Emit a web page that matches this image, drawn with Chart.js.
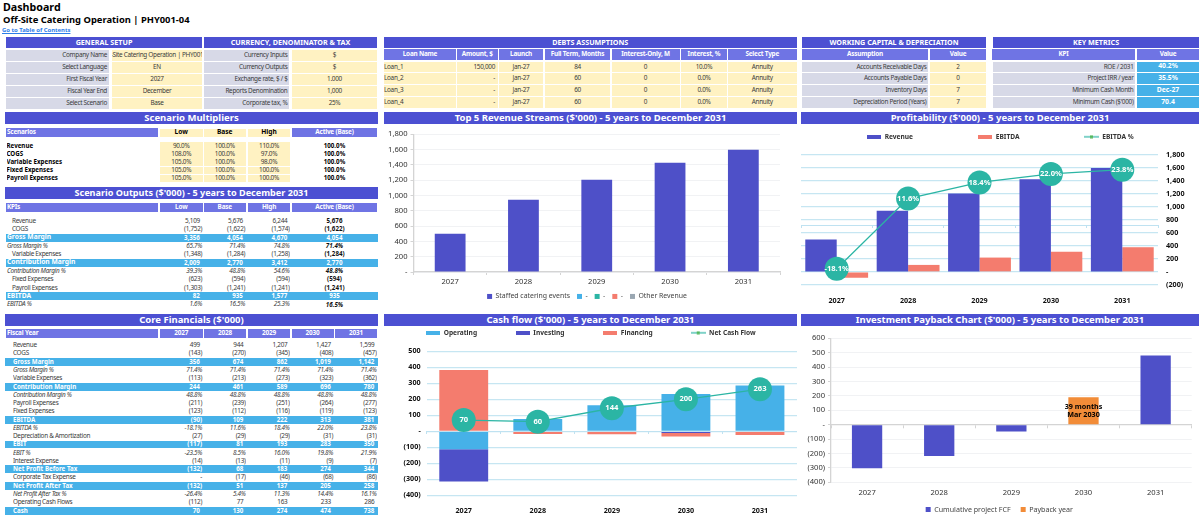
<!DOCTYPE html>
<html>
<head>
<meta charset="utf-8">
<title>Dashboard</title>
<script src="https://cdn.jsdelivr.net/npm/chart.js@4"></script>
<style>
  html, body { margin: 0; padding: 0; background: #fff; }
  #page { position: relative; width: 1200px; height: 518px; overflow: hidden; font-family: "Noto Sans", sans-serif; color: #3a3a3a; }
  .c { position: absolute; display: flex; align-items: center; white-space: nowrap; overflow: hidden; box-sizing: border-box; font-size: 6.4px; letter-spacing: -.3px; line-height: 1; }
  .c span { flex: none; }
  .t { position: absolute; white-space: nowrap; color: #000; font-weight: 700; }
  .title { background: #4c50d2; color: #fff; font-weight: 700; font-size: 9.5px; letter-spacing: 0; justify-content: center; }
  .head { background: #4c50d2; color: #fff; font-weight: 700; font-size: 7.2px; letter-spacing: 0; justify-content: center; }
  .sub { background: #6f74e4; color: #fff; font-weight: 700; font-size: 6.4px; letter-spacing: -.2px; justify-content: center; }
  .gray { background: #d7d9e7; justify-content: flex-end; padding-right: 1.5px; }
  .yel { background: #fff2c2; justify-content: center; }
  .kpi { background: #46b1e8; color: #fff; font-weight: 700; font-size: 6.8px; letter-spacing: 0; justify-content: center; }
  .band { background: #46b1e8; }
  canvas { position: absolute; }
</style>
</head>
<body>
<div id="page"></div>
<script>
const FONT = '"Noto Sans", sans-serif';
const YEARS = ['2027', '2028', '2029', '2030', '2031'];

// charts
const STAFFED = [499, 944, 1207, 1427, 1599];
const STREAM_2 = [0, 0, 0, 0, 0];
const STREAM_3 = [0, 0, 0, 0, 0];
const STREAM_4 = [0, 0, 0, 0, 0];
const OTHER_REV = [0, 0, 0, 0, 0];
const REVENUE = [499, 944, 1207, 1427, 1599];
const EBITDA = [-90, 109, 222, 313, 381];
const EBITDA_PCT = [-18.1, 11.6, 18.4, 22.0, 23.8];
const OPERATING = [-112, 77, 163, 233, 286];
const INVESTING = [-201, 0, 0, -10, 0];
const FINANCING = [383, -17, -19, -23, -23];
const NET_CASH = [70, 60, 144, 200, 263];
const PAYBACK_FCF = [-303, -217, -47, null, 481];
const PAYBACK_YEAR = [null, null, null, 190, null];
const PAYBACK_NOTE = ['39 months', 'Mar 2030'];

// top tables
const SETUP_LABELS = ['Company Name', 'Select Language', 'First Fiscal Year', 'Fiscal Year End', 'Select Scenario'];
const SETUP_VALUES = ['Off-Site Catering Operation | PHY001-04', 'EN', '2027', 'December', 'Base'];
const CURRENCY_LABELS = ['Currency Inputs', 'Currency Outputs', 'Exchange rate, $ / $', 'Reports Denomination', 'Corporate tax, %'];
const CURRENCY_VALUES = ['$', '$', '1.000', '1,000', '25%'];
const DEBT_HEADS = ['Loan Name', 'Amount, $', 'Launch', 'Full Term, Months', 'Interest-Only, M', 'Interest, %', 'Select Type'];
const DEBT_ROWS = [
  ['Loan_1', '150,000', 'Jan-27', '84', '0', '10.0%', 'Annuity'],
  ['Loan_2', '-', 'Jan-27', '60', '0', '0.0%', 'Annuity'],
  ['Loan_3', '-', 'Jan-27', '60', '0', '0.0%', 'Annuity'],
  ['Loan_4', '-', 'Jan-27', '60', '0', '0.0%', 'Annuity'],
];
const WC_LABELS = ['Accounts Receivable Days', 'Accounts Payable Days', 'Inventory Days', 'Depreciation Period (Years)'];
const WC_VALUES = ['2', '0', '7', '7'];
const KPI_LABELS = ['ROE / 2031', 'Project IRR / year', 'Minimum Cash Month', "Minimum Cash ($'000)"];
const KPI_VALUES = ['40.2%', '35.5%', 'Dec-27', '70.4'];

// scenario tables
const SCEN_HEADS = ['Low', 'Base', 'High', 'Active (Base)'];
const MULT_ROWS = [
  ['Revenue', '90.0%', '100.0%', '110.0%', '100.0%'],
  ['COGS', '108.0%', '100.0%', '97.0%', '100.0%'],
  ['Variable Expenses', '105.0%', '100.0%', '98.0%', '100.0%'],
  ['Fixed Expenses', '105.0%', '100.0%', '100.0%', '100.0%'],
  ['Payroll Expenses', '105.0%', '100.0%', '100.0%', '100.0%'],
];
// kind: n normal, b blue band, i italic
const OUT_ROWS = [
  ['n', 'Revenue', '5,109', '5,676', '6,244', '5,676'],
  ['n', 'COGS', '(1,752)', '(1,622)', '(1,574)', '(1,622)'],
  ['b', 'Gross Margin', '3,356', '4,054', '4,670', '4,054'],
  ['i', 'Gross Margin %', '65.7%', '71.4%', '74.8%', '71.4%'],
  ['n', 'Variable Expenses', '(1,348)', '(1,284)', '(1,258)', '(1,284)'],
  ['b', 'Contribution Margin', '2,009', '2,770', '3,412', '2,770'],
  ['i', 'Contribution Margin %', '39.3%', '48.8%', '54.6%', '48.8%'],
  ['n', 'Fixed Expenses', '(623)', '(594)', '(594)', '(594)'],
  ['n', 'Payroll Expenses', '(1,303)', '(1,241)', '(1,241)', '(1,241)'],
  ['b', 'EBITDA', '82', '935', '1,577', '935'],
  ['i', 'EBITDA %', '1.6%', '16.5%', '25.3%', '16.5%'],
];
const CORE_ROWS = [
  ['n', 'Revenue', '499', '944', '1,207', '1,427', '1,599'],
  ['n', 'COGS', '(143)', '(270)', '(345)', '(408)', '(457)'],
  ['b', 'Gross Margin', '356', '674', '862', '1,019', '1,142'],
  ['i', 'Gross Margin %', '71.4%', '71.4%', '71.4%', '71.4%', '71.4%'],
  ['n', 'Variable Expenses', '(113)', '(213)', '(273)', '(323)', '(362)'],
  ['b', 'Contribution Margin', '244', '461', '589', '696', '780'],
  ['i', 'Contribution Margin %', '48.8%', '48.8%', '48.8%', '48.8%', '48.8%'],
  ['n', 'Payroll Expenses', '(211)', '(239)', '(251)', '(264)', '(277)'],
  ['n', 'Fixed Expenses', '(123)', '(112)', '(116)', '(119)', '(123)'],
  ['b', 'EBITDA', '(90)', '109', '222', '313', '381'],
  ['i', 'EBITDA %', '-18.1%', '11.6%', '18.4%', '22.0%', '23.8%'],
  ['n', 'Depreciation & Amortization', '(27)', '(29)', '(29)', '(31)', '(31)'],
  ['b', 'EBIT', '(117)', '81', '193', '283', '350'],
  ['i', 'EBIT %', '-23.5%', '8.5%', '16.0%', '19.8%', '21.9%'],
  ['n', 'Interest Expense', '(14)', '(13)', '(11)', '(9)', '(7)'],
  ['b', 'Net Profit Before Tax', '(132)', '68', '183', '274', '344'],
  ['n', 'Corporate Tax Expense', '-', '(17)', '(46)', '(68)', '(86)'],
  ['b', 'Net Profit After Tax', '(132)', '51', '137', '205', '258'],
  ['i', 'Net Profit After Tax %', '-26.4%', '5.4%', '11.3%', '14.4%', '16.1%'],
  ['n', 'Operating Cash Flows', '(112)', '77', '163', '233', '286'],
  ['b', 'Cash', '70', '130', '274', '474', '738'],
];

const page = document.getElementById('page');
function cell(x, y, w, h, text, cls, extra) {
  const d = document.createElement('div');
  d.className = 'c ' + (cls || '');
  d.style.cssText = 'left:' + x + 'px;top:' + y + 'px;width:' + w + 'px;height:' + h + 'px;' + (extra || '');
  const s = document.createElement('span');
  s.textContent = text;
  d.appendChild(s);
  page.appendChild(d);
  return d;
}
function label(x, y, text, css) {
  const d = document.createElement('div');
  d.className = 't';
  d.textContent = text;
  d.style.cssText = 'left:' + x + 'px;top:' + y + 'px;' + css;
  page.appendChild(d);
}

label(3, 0, 'Dashboard', 'font-size:10.7px;line-height:15px;');
label(3, 12.5, 'Off-Site Catering Operation | PHY001-04', 'font-size:9.4px;line-height:13px;');
label(2, 26, 'Go to Table of Contents', 'font-size:5.9px;line-height:8px;color:#2b7de9;text-decoration:underline;');

// top row of input tables
const ROW5 = [49.5, 61.5, 73.5, 85.5, 97.5];
const ROW4 = [61.5, 73.2, 85.2, 97];
cell(6, 37, 196, 11, 'GENERAL SETUP', 'head');
cell(204, 37, 173, 11, 'CURRENCY, DENOMINATOR & TAX', 'head');
SETUP_LABELS.forEach((t, i) => {
  cell(6, ROW5[i], 102.5, 11, t, 'gray');
  cell(112, ROW5[i], 90, 11, SETUP_VALUES[i], 'yel');
  cell(204, ROW5[i], 85, 11, CURRENCY_LABELS[i], 'gray');
  cell(292, ROW5[i], 85, 11, CURRENCY_VALUES[i], 'yel');
});

const DEBT_X = [384, 457, 499, 545, 611.5, 681, 728];
const DEBT_W = [72, 40.5, 44, 65, 68, 46, 68.5];
cell(384, 37, 412.5, 11, 'DEBTS ASSUMPTIONS', 'head');
DEBT_HEADS.forEach((t, i) => cell(DEBT_X[i], 49, DEBT_W[i], 10.5, t, 'sub'));
DEBT_ROWS.forEach((r, j) => r.forEach((t, i) => {
  const pos = i === 0 ? 'justify-content:flex-start;' : i === 1 ? 'justify-content:flex-end;padding-right:2.5px;' : '';
  cell(DEBT_X[i], ROW4[j], DEBT_W[i], 10.5, t, 'yel', pos);
}));

cell(802, 37, 184, 11, 'WORKING CAPITAL & DEPRECIATION', 'head');
cell(802, 49, 126, 10.5, 'Assumption', 'sub');
cell(930, 49, 56, 10.5, 'Value', 'sub');
cell(993, 37, 206, 11, 'KEY METRICS', 'head');
cell(992, 49, 143, 10.5, 'KPI', 'sub');
cell(1137, 49, 62, 10.5, 'Value', 'sub');
ROW4.forEach((y, i) => {
  cell(802, y, 126, 10.5, WC_LABELS[i], 'gray');
  cell(930, y, 56, 10.5, WC_VALUES[i], 'yel');
  cell(993, y, 142, 10.5, KPI_LABELS[i], 'gray');
  cell(1137, y, 62, 10.5, KPI_VALUES[i], 'kpi');
});

// section titles
cell(5, 112, 373, 12, 'Scenario Multipliers', 'title');
cell(384, 112, 413, 12, "Top 5 Revenue Streams ($'000) - 5 years to December 2031", 'title');
cell(801, 112, 398, 12, "Profitability ($'000) - 5 years to December 2031", 'title');
cell(5, 187, 373, 12, "Scenario Outputs ($'000) - 5 years to December 2031", 'title', 'font-size:9.1px;');
cell(5, 313.5, 373, 12, "Core Financials ($'000)", 'title');
cell(384, 313.5, 413, 12, "Cash flow ($'000) - 5 years to December 2031", 'title');
cell(801, 313.5, 398, 12, "Investment Payback Chart ($'000) - 5 years to December 2031", 'title');

// table columns shared by the left hand tables
const COL_X = [160, 204, 248, 291.5, 335];
const COL_W = [42.5, 42, 42, 42, 42];
const SCEN_X = [160, 204, 248, 292];
const SCEN_W = [42.5, 41.5, 42, 85];

cell(6, 128, 152, 9, 'Scenarios', 'sub', 'justify-content:flex-start;padding-left:1px;');
SCEN_HEADS.forEach((t, i) => {
  if (i < 3) cell(SCEN_X[i], 128.5, SCEN_W[i], 8.5, t, 'yel', 'font-weight:700;color:#000;font-size:6.6px;letter-spacing:0;');
  else cell(SCEN_X[i], 128, SCEN_W[i], 9, t, 'sub');
});
MULT_ROWS.forEach((r, j) => {
  const y = 142 + j * 8.1;
  cell(6.5, y, 150, 8, r[0], '', 'font-weight:700;color:#000;letter-spacing:0;font-size:6.2px;');
  for (let i = 0; i < 3; i++) cell(SCEN_X[i], y + .2, SCEN_W[i], 7.4, r[i + 1], 'yel');
  cell(SCEN_X[3], y, SCEN_W[3], 8, r[4], '', 'justify-content:center;font-weight:700;color:#000;letter-spacing:0;font-size:6.2px;');
});

cell(6, 202.5, 152, 9, 'KPIs', 'sub', 'justify-content:flex-start;padding-left:1px;');
SCEN_HEADS.forEach((t, i) => cell(SCEN_X[i], 202.5, SCEN_W[i], 9, t, 'sub'));
function rowStyle(kind) {
  if (kind === 'b') return 'color:#fff;font-weight:700;letter-spacing:0;font-size:6.2px;';
  if (kind === 'i') return 'font-style:italic;';
  return '';
}
function numPad(t) { return /\d$/.test(t) ? 'padding-right:2.6px;' : 'padding-right:.4px;'; }
OUT_ROWS.forEach((r, j) => {
  const y = 216.9 + j * 8.36;
  const k = r[0];
  if (k === 'b') cell(6, y + .2, 371.5, 7.9, '', 'band');
  const pad = k === 'b' ? 'padding-left:1px;font-size:6.7px;' : k === 'i' ? 'padding-left:1px;' : 'padding-left:6px;';
  cell(6, y, 150, 8.3, r[1], '', rowStyle(k) + pad);
  for (let i = 0; i < 3; i++) {
    cell(SCEN_X[i], y, SCEN_W[i], 8.3, r[i + 2], '', rowStyle(k) + 'justify-content:flex-end;' + numPad(r[i + 2]));
  }
  cell(SCEN_X[3], y, SCEN_W[3], 8.3, r[5], '', (k === 'b' ? 'color:#fff;' : 'color:#111;') + (k === 'i' ? 'font-style:italic;' : '') + 'font-weight:700;letter-spacing:0;font-size:6.2px;justify-content:center;');
});

cell(6, 329, 152, 8.5, 'Fiscal Year', 'sub', 'justify-content:flex-start;padding-left:1px;');
YEARS.forEach((t, i) => cell(COL_X[i], 329, COL_W[i], 8.5, t, 'sub'));
CORE_ROWS.forEach((r, j) => {
  const y = 341.2 + j * 8.27;
  const k = r[0];
  if (k === 'b') cell(5, y + .2, 373, 7.8, '', 'band');
  cell(13, y, 145, 8.2, r[1], '', rowStyle(k));
  for (let i = 0; i < 5; i++) {
    cell(COL_X[i], y, COL_W[i], 8.2, r[i + 2], '', rowStyle(k) + 'justify-content:flex-end;' + numPad(r[i + 2]));
  }
});

// chart helpers
const C = { indigo: '#4e50c8', blue: '#46b1e8', teal: '#2bb5a4', salmon: '#f47c6e', grey: '#9aa7b2', orange: '#f28c38', pale: '#c6e6f2', soft: '#f1f2f4' };
const INK = '#333';

function addCanvas(x, y, w, h) {
  const cv = document.createElement('canvas');
  cv.width = w; cv.height = h;
  cv.style.cssText = 'left:' + x + 'px;top:' + y + 'px;width:' + w + 'px;height:' + h + 'px;';
  page.appendChild(cv);
  return cv;
}
function money(v) {
  if (v === 0) return '-';
  const s = Math.abs(v).toLocaleString('en-US');
  return v < 0 ? '(' + s + ')' : s;
}
function barIcon(color) {
  const cv = document.createElement('canvas');
  cv.width = 14; cv.height = 4;
  const g = cv.getContext('2d');
  g.fillStyle = color; g.fillRect(0, 0, 14, 4);
  return cv;
}
function lineIcon(color) {
  const cv = document.createElement('canvas');
  cv.width = 15; cv.height = 4;
  const g = cv.getContext('2d');
  g.fillStyle = color; g.fillRect(0, 1.4, 15, 1.2);
  g.fillStyle = '#55b85f'; g.fillRect(6, .5, 3, 3);
  return cv;
}
// wide gaps between legend items without a tall legend box or wrapping
function legendFit(height, lift, shift) {
  return {
    id: 'legendFit',
    beforeInit(chart) {
      const lg = chart.legend, fit = lg.fit;
      lg.fit = function () {
        const w = this.maxWidth;
        this.maxWidth = w + 400;
        fit.call(this);
        this.maxWidth = w;
        this.width = w;
        this.height = height;
      };
    },
    afterLayout(chart) {
      const lg = chart.legend;
      lg.top -= lg.options.labels.padding - lift;
      lg.left += (shift || 0) - 200;
      lg.right += (shift || 0) + 200;
    },
  };
}
function bubbleText(index, fmt) {
  return {
    id: 'bubbleText',
    afterDatasetsDraw(chart) {
      const g = chart.ctx;
      g.save();
      g.font = '700 7.6px ' + FONT;
      g.fillStyle = '#fff';
      g.textAlign = 'center';
      g.textBaseline = 'middle';
      chart.getDatasetMeta(index).data.forEach((p, i) => {
        g.fillText(fmt(chart.data.datasets[index].data[i]), p.x, p.y);
      });
      g.restore();
    },
  };
}
function iconLegend(padding) {
  return {
    display: true,
    labels: {
      usePointStyle: true, pointStyleWidth: 15, padding: padding, color: INK,
      font: { family: FONT, size: 6.6, weight: '700' },
      generateLabels(chart) {
        return chart.data.datasets.map((d, i) => ({
          text: d.label, datasetIndex: i, fontColor: INK, lineWidth: 0, strokeStyle: 'transparent',
          pointStyle: d.type === 'line' ? lineIcon(d.borderColor) : barIcon(d.backgroundColor),
        }));
      },
    },
  };
}
const squareLegend = {
  display: true,
  labels: { boxWidth: 5, boxHeight: 5, padding: 7, color: '#444', font: { family: FONT, size: 6.9 } },
};
const fixW = w => ({ afterFit(s) { s.width = w; } });
const fixH = h => ({ afterFit(s) { s.height = h; s.paddingLeft = 0; s.paddingRight = 0; } });
const tickFont = { family: FONT, size: 7.6 };
const boldFont = { family: FONT, size: 7.2, weight: '700' };
const base = { responsive: false, animation: false, events: [] };

// Top 5 revenue streams
new Chart(addCanvas(384, 125, 413, 185), {
  type: 'bar',
  data: {
    labels: YEARS,
    datasets: [
      { label: 'Staffed catering events', data: STAFFED, backgroundColor: C.indigo },
      { label: '-', data: STREAM_2, backgroundColor: C.blue },
      { label: '-', data: STREAM_3, backgroundColor: C.teal },
      { label: '-', data: STREAM_4, backgroundColor: C.salmon },
      { label: 'Other Revenue', data: OTHER_REV, backgroundColor: C.grey },
    ],
  },
  options: Object.assign({}, base, {
    layout: { padding: { top: 9.3, right: 17, bottom: 0, left: 0 } },
    datasets: { bar: { categoryPercentage: 1, barPercentage: 0.42 } },
    plugins: { legend: Object.assign({ position: 'bottom' }, squareLegend), tooltip: { enabled: false } },
    scales: {
      x: Object.assign({ stacked: true, border: { color: '#d4d4d4', width: 1.3 }, grid: { drawOnChartArea: false, tickLength: 3, color: '#d4d4d4' },
        ticks: { font: tickFont, color: INK, padding: 2, maxRotation: 0 } }, fixH(14)),
      y: Object.assign({ stacked: true, min: 0, max: 1800, border: { color: '#d4d4d4', width: 1.3 }, grid: { color: C.soft, tickLength: 3, tickColor: '#d4d4d4' },
        ticks: { stepSize: 200, font: tickFont, color: INK, padding: 3, callback: money } }, fixW(29.5)),
    },
  }),
  plugins: [legendFit(24, 7, 5)],
});

// Profitability
new Chart(addCanvas(801, 125, 398, 185), {
  type: 'bar',
  data: {
    labels: YEARS,
    datasets: [
      { label: 'Revenue', data: REVENUE, backgroundColor: C.indigo, order: 1 },
      { label: 'EBITDA', data: EBITDA, backgroundColor: C.salmon, order: 1 },
      { type: 'line', label: 'EBITDA %', data: EBITDA_PCT, yAxisID: 'y1', order: 0, borderColor: C.teal, backgroundColor: C.teal,
        borderWidth: 1.3, pointRadius: 12, pointBackgroundColor: C.teal, pointBorderWidth: 0 },
    ],
  },
  options: Object.assign({}, base, {
    layout: { autoPadding: false, padding: { top: 3, right: 0, bottom: 0, left: 0 } },
    datasets: { bar: { categoryPercentage: 0.88, barPercentage: 1 } },
    plugins: { legend: Object.assign({ position: 'top' }, iconLegend(64.5)), tooltip: { enabled: false } },
    scales: {
      x: Object.assign({ border: { display: false }, grid: { display: false, drawTicks: false },
        ticks: { font: boldFont, color: '#111', padding: 11.5, maxRotation: 0 } }, fixH(25)),
      x2: { type: 'category', labels: YEARS, position: { y1: 0 }, border: { color: '#bfe2f1', width: 1 },
        grid: { drawOnChartArea: false, offset: true, tickLength: 2, color: '#bfe2f1' }, ticks: { display: false } },
      y: Object.assign({ position: 'right', min: -200, max: 1800, border: { display: false }, grid: { color: C.pale, lineWidth: 1.2, drawTicks: false },
        ticks: { stepSize: 200, font: boldFont, color: '#111', padding: 8, callback: money } }, fixW(41)),
      y1: { display: false, min: -25, max: 30 },
    },
  }),
  plugins: [legendFit(27, 5.5), bubbleText(2, v => v.toFixed(1) + '%')],
});

// Cash flow
new Chart(addCanvas(384, 326, 413, 192), {
  type: 'bar',
  data: {
    labels: YEARS,
    datasets: [
      { label: 'Operating', data: OPERATING, backgroundColor: C.blue, order: 1 },
      { label: 'Investing', data: INVESTING, backgroundColor: C.indigo, order: 1 },
      { label: 'Financing', data: FINANCING, backgroundColor: C.salmon, order: 1 },
      { type: 'line', label: 'Net Cash Flow', data: NET_CASH, order: 0, borderColor: C.teal, backgroundColor: C.teal,
        borderWidth: 1.3, pointRadius: 12, pointBackgroundColor: C.teal, pointBorderWidth: 0 },
    ],
  },
  options: Object.assign({}, base, {
    layout: { autoPadding: false, padding: { top: 0, right: 0, bottom: 2, left: 0 } },
    datasets: { bar: { categoryPercentage: 1, barPercentage: 0.66 } },
    plugins: { legend: Object.assign({ position: 'top' }, iconLegend(38)), tooltip: { enabled: false } },
    scales: {
      x: Object.assign({ stacked: true, border: { display: false }, grid: { display: false, drawTicks: false },
        ticks: { font: boldFont, color: '#111', padding: 11, maxRotation: 0 } }, fixH(20.7)),
      x2: { type: 'category', labels: YEARS, position: { y: 0 }, border: { color: '#bfe2f1', width: 1 },
        grid: { drawOnChartArea: false, offset: true, tickLength: 2, color: '#bfe2f1' }, ticks: { display: false } },
      y: Object.assign({ stacked: true, min: -400, max: 500, border: { display: false }, grid: { color: C.pale, lineWidth: 1.2, drawTicks: false },
        ticks: { stepSize: 100, font: boldFont, color: '#111', padding: 6, callback: money } }, fixW(42.7)),
    },
  }),
  plugins: [legendFit(25.3, 3.5), bubbleText(3, v => String(v))],
});

// Investment payback
const paybackNote = {
  id: 'paybackNote',
  afterDatasetsDraw(chart) {
    const g = chart.ctx;
    const p = chart.getDatasetMeta(1).data[3];
    g.save();
    g.font = '700 7.2px ' + FONT;
    g.fillStyle = '#000';
    g.textAlign = 'center';
    g.textBaseline = 'middle';
    g.fillText(PAYBACK_NOTE[0], p.x, p.y + 9.3);
    g.fillText(PAYBACK_NOTE[1], p.x, p.y + 17.6);
    g.restore();
  },
};
new Chart(addCanvas(801, 326, 398, 192), {
  type: 'bar',
  data: {
    labels: YEARS,
    datasets: [
      { label: 'Cumulative project FCF', data: PAYBACK_FCF, backgroundColor: C.indigo },
      { label: 'Payback year', data: PAYBACK_YEAR, backgroundColor: C.orange },
    ],
  },
  options: Object.assign({}, base, {
    layout: { padding: { top: 12.3, right: 7.3, bottom: 0, left: 0 } },
    datasets: { bar: { categoryPercentage: 1, barPercentage: 0.42 } },
    plugins: { legend: Object.assign({ position: 'bottom' }, squareLegend, { labels: Object.assign({}, squareLegend.labels, { padding: 10, font: { family: FONT, size: 7.1 } }) }), tooltip: { enabled: false } },
    scales: {
      x: Object.assign({ stacked: true, border: { display: false }, grid: { display: false, drawTicks: false },
        ticks: { font: tickFont, color: INK, padding: 5.6, maxRotation: 0 } }, fixH(18)),
      x2: { type: 'category', labels: YEARS, position: { y: 0 }, border: { color: '#d4d4d4', width: 1.3 },
        grid: { drawOnChartArea: false, offset: true, tickLength: 3, color: '#d4d4d4' }, ticks: { display: false } },
      y: Object.assign({ stacked: true, min: -400, max: 600, border: { color: '#d4d4d4', width: 1.3 }, grid: { color: C.soft, tickLength: 3, tickColor: '#d4d4d4' },
        ticks: { stepSize: 100, font: tickFont, color: INK, padding: 3, callback: money } }, fixW(30)),
    },
  }),
  plugins: [legendFit(17.7, 5.7, 3), paybackNote],
});
</script>
</body>
</html>
